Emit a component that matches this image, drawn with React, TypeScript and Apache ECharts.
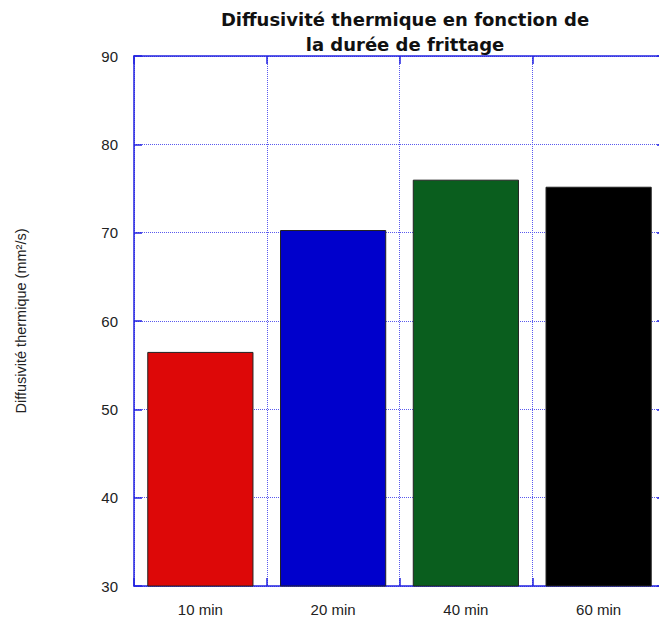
import React, { useEffect, useRef } from "react";
import * as echarts from "echarts";

const categories = ["10 min", "20 min", "40 min", "60 min"];
const values = [56.5, 70.3, 76.0, 75.2];
const barColors = ["#dd0808", "#0000cc", "#0a5e1e", "#000000"];
const titleText = "Diffusivité thermique en fonction de\nla durée de frittage";
const yName = "Diffusivité thermique (mm²/s)";

const AXIS_BLUE = "#2323e0";
const GRID_BLUE = "#5a5aee";
const FONT = "Liberation Sans, Arial, sans-serif";

export default function App() {
  const ref = useRef<HTMLDivElement>(null);
  useEffect(() => {
    if (!ref.current) return;
    const chart = echarts.init(ref.current, undefined, { renderer: "svg" });
    const grid = { left: 134, top: 56, width: 531, height: 530 };
    chart.setOption({
      animation: false,
      backgroundColor: "#ffffff",
      title: {
        text: titleText,
        left: 400,
        textAlign: "center",
        top: 2,
        textStyle: { fontFamily: "DejaVu Sans, Verdana, sans-serif", fontSize: 18, fontWeight: "bold", color: "#111", lineHeight: 25 },
      },
      grid,
      xAxis: [
        {
          type: "category",
          data: categories,
          boundaryGap: true,
          axisLine: { show: true, lineStyle: { color: AXIS_BLUE, width: 1.5 } },
          axisTick: { show: true, inside: true, length: 8, lineStyle: { color: AXIS_BLUE, width: 1.5 } },
          axisLabel: { fontFamily: FONT, fontSize: 15, color: "#222", margin: 16 },
          splitLine: { show: true, lineStyle: { color: GRID_BLUE, type: [1, 1], width: 1 } },
        },
        {
          type: "category",
          data: categories,
          position: "top",
          boundaryGap: true,
          axisLine: { show: true, lineStyle: { color: AXIS_BLUE, width: 1.5 } },
          axisTick: { show: true, inside: true, length: 8, lineStyle: { color: AXIS_BLUE, width: 1.5 } },
          axisLabel: { show: false },
          splitLine: { show: false },
        },
      ],
      yAxis: [
        {
          type: "value",
          min: 30,
          max: 90,
          interval: 10,
          name: yName,
          nameLocation: "middle",
          nameGap: 106,
          nameTextStyle: { fontFamily: FONT, fontSize: 14.5, color: "#222" },
          axisLine: { show: true, lineStyle: { color: AXIS_BLUE, width: 1.5 } },
          axisTick: { show: true, inside: true, length: 8, lineStyle: { color: AXIS_BLUE, width: 1.5 } },
          axisLabel: { fontFamily: FONT, fontSize: 15, color: "#222", margin: 16 },
          splitLine: { show: true, lineStyle: { color: GRID_BLUE, type: [1, 1], width: 1 } },
        },
        {
          type: "value",
          min: 30,
          max: 90,
          interval: 10,
          position: "right",
          axisLine: { show: true, lineStyle: { color: AXIS_BLUE, width: 1.5 } },
          axisTick: { show: true, inside: true, length: 8, lineStyle: { color: AXIS_BLUE, width: 1.5 } },
          axisLabel: { show: false },
          splitLine: { show: false },
        },
      ],
      series: [
        {
          type: "bar",
          barWidth: "80%",
          data: values.map((v, i) => ({
            value: v,
            itemStyle: { color: barColors[i], borderColor: "#222", borderWidth: 1 },
          })),
        },
      ],
    });
    return () => chart.dispose();
  }, []);
  return (
    <div style={{ position: "fixed", left: 0, top: 0, width: 659, height: 619, overflow: "hidden", background: "#fff" }}>
      <div ref={ref} style={{ width: 680, height: 619 }} />
    </div>
  );
}
